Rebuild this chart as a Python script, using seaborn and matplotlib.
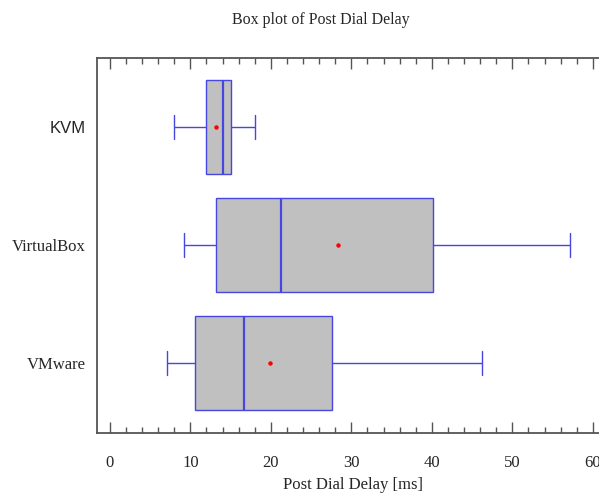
import numpy as np
import pandas as pd
import seaborn as sns
import matplotlib.pyplot as plt
from matplotlib.ticker import MultipleLocator

platforms = ["KVM", "VirtualBox", "VMware"]
# five-number summaries: min, Q1, median, Q3, max
kvm = [8, 12, 14, 15, 18]
virtualbox = [9.2, 13.2, 21.2, 40.1, 57.1]
vmware = [7.1, 10.6, 16.6, 27.6, 46.2]
# mean markers (red dots)
means = [13.2, 28.3, 19.9]

df = pd.DataFrame({"platform": np.repeat(platforms, 5),
                   "delay": kvm + virtualbox + vmware})
df_mean = pd.DataFrame({"platform": platforms, "delay": means})

sns.set_style("white")
plt.rcParams["font.family"] = ["Liberation Serif", "DejaVu Serif"]

fig = plt.figure(figsize=(5.99, 4.95), dpi=100)
ax = fig.add_axes([97 / 599, 1 - 433 / 495, (609 - 97) / 599, (433 - 58) / 495])

blue = "#4747e0"
sns.boxplot(data=df, x="delay", y="platform", order=platforms, whis=(0, 100),
            width=0.8, color="#c0c0c0", saturation=1, linecolor=blue,
            linewidth=1, ax=ax, capwidths=0.2,
            medianprops=dict(color=blue, linewidth=1.6))
sns.pointplot(data=df_mean, x="delay", y="platform", order=platforms,
              linestyle="none", marker="o", markersize=1.2, color="red",
              errorbar=None, ax=ax)

ax.set_xlim(-1.6, 62)
ax.set_ylim(2.593, -0.585)
ax.xaxis.set_major_locator(MultipleLocator(10))
ax.xaxis.set_minor_locator(MultipleLocator(2))
ax.tick_params(axis="x", which="both", direction="in", top=True, bottom=True,
               color="#555555", width=1, labelsize=12, pad=16)
ax.tick_params(axis="x", which="major", length=8)
ax.tick_params(axis="x", which="minor", length=4)
ax.tick_params(axis="y", length=0, labelsize=12, pad=8)
for s in ax.spines.values():
    s.set_color("#555555")
    s.set_linewidth(1.3)

ax.set_ylabel("")
ax.set_xlabel("Post Dial Delay [ms]", fontsize=12, labelpad=4)
for lab in ax.get_yticklabels():
    if lab.get_text() == "KVM":
        lab.set_fontfamily(["Liberation Sans", "DejaVu Sans"])

fig.text(321 / 599, 1 - 20 / 495, "Box plot of Post Dial Delay",
         ha="center", va="center", fontsize=11.5)

fig.savefig("out.png", dpi=100)
